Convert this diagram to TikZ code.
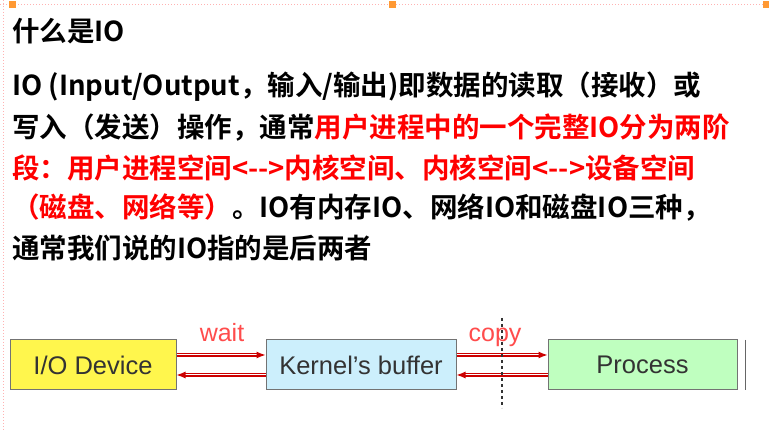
\documentclass[tikz,border=0pt]{standalone}
\usepackage{fontspec}
\usetikzlibrary{arrows.meta}
\newfontfamily\cjk[BoldFont={Noto Sans CJK SC Bold}]{Noto Sans CJK SC}
\setsansfont{Liberation Sans}
\begin{document}
\begin{tikzpicture}[x=1pt,y=-1pt,
  txt/.style={anchor=west,inner sep=0pt,font=\cjk\bfseries\fontsize{27.5}{27.5}\selectfont},
  box/.style={draw=black!55,line width=1pt,minimum height=50pt,inner sep=0pt,font=\sffamily\fontsize{25.5}{25.5}\selectfont,text=black!80},
  arr/.style={draw=red!80!black,line width=1.2pt,-{Latex[length=9pt,width=7pt]},double=white,double distance=1pt},
  lbl/.style={text=red!70,font=\sffamily\fontsize{25}{25}\selectfont,inner sep=0pt}]
\useasboundingbox[fill=white] (0,0) rectangle (769,430);
\draw[red!30,dotted,line width=1pt] (0,5) -- (769,5);
\draw[red!30,dotted,line width=1pt] (3,0) -- (3,430);
\foreach \xx/\nm in {12/s1,392/s2,766/s3}{\node[fill=orange!80,minimum size=7pt,inner sep=0pt] (\nm) at (\xx,5) {};}
\node[txt] (t1) at (12,31) {什么是IO};
\node[txt] (t2) at (12,87) {IO (Input/Output，输入/输出)即数据的读取（接收）或};
\node[txt] (t3) at (12,128) {写入（发送）操作，通常\textcolor{red}{用户进程中的一个完整IO分为两阶}};
\node[txt,text=red] (t4) at (12,168) {段：用户进程空间<-->内核空间、内核空间<-->设备空间};
\node[txt] (t5) at (12,208) {\textcolor{red}{（磁盘、网络等）}。IO有内存IO、网络IO和磁盘IO三种，};
\node[txt] (t6) at (12,248) {通常我们说的IO指的是后两者};
\node[box,fill=yellow!70,minimum width=166pt] (dev) at (93,365) {I/O Device};
\node[box,fill=cyan!20,minimum width=190pt] (ker) at (361,365) {Kernel's buffer};
\node[box,fill=green!25,minimum width=189pt] (pro) at (642.5,365) {Process};
\draw[black!60,line width=1pt] (745,340) -- (745,390);
\draw[arr] (dev.east|-0,355) -- (ker.west|-0,355);
\draw[arr] (ker.west|-0,375) -- (dev.east|-0,375);
\draw[arr] (ker.east|-0,355) -- (pro.west|-0,355);
\draw[arr] (pro.west|-0,375) -- (ker.east|-0,375);
\node[lbl] (w) at (222,333) {wait};
\node[lbl] (c) at (495,337) {copy};
\draw[black!80,dashed,line width=1.2pt] (502,318) -- (502,408);
\end{tikzpicture}
\end{document}
